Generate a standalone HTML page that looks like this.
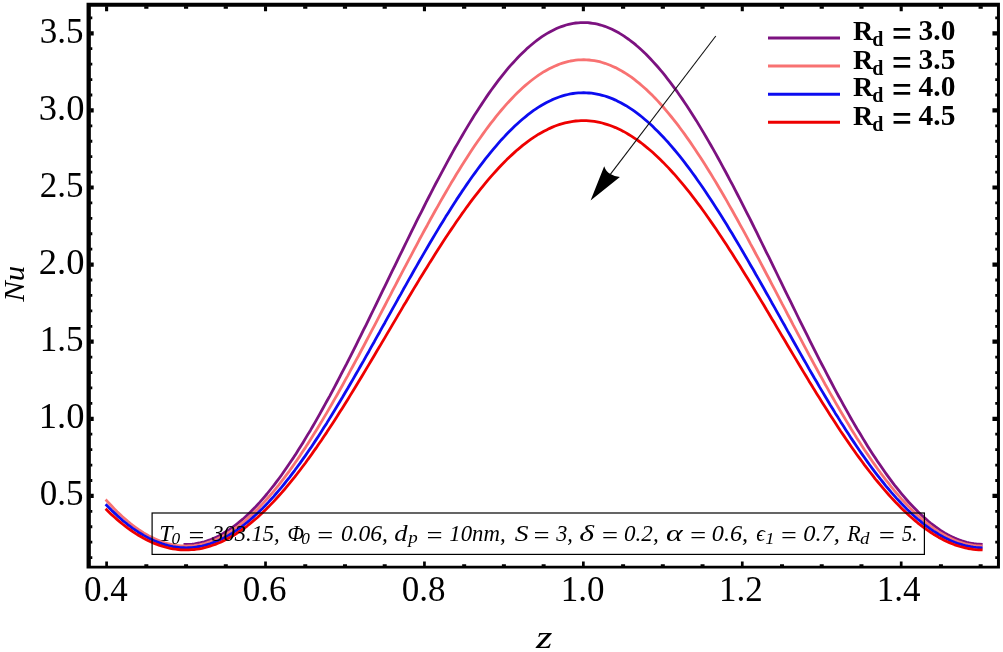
<!DOCTYPE html>
<html><head><meta charset="utf-8"><title>Nu vs z</title>
<style>html,body{margin:0;padding:0;background:#fff}svg{display:block}.s{font-family:"Liberation Serif","DejaVu Serif",serif;fill:#000}.i{font-style:italic}.b{font-weight:bold}</style></head>
<body>
<svg width="1003" height="652" viewBox="0 0 1003 652">
<rect width="1003" height="652" fill="#fff"/>
<polyline fill="none" stroke="#7c1280" stroke-width="2.8" stroke-linejoin="round" stroke-linecap="square" points="184.9,544.4 187.3,544.4 189.7,544.3 192.1,544.1 194.5,543.8 196.9,543.4 199.3,543.0 201.8,542.4 204.2,541.8 206.6,541.0 209.0,540.2 211.4,539.3 213.8,538.3 216.2,537.2 218.7,536.0 221.1,534.7 223.5,533.3 225.9,531.8 228.3,530.3 230.7,528.7 233.1,526.9 235.5,525.1 238.0,523.2 240.4,521.2 242.8,519.2 245.2,517.0 247.6,514.8 250.0,512.4 252.4,510.0 254.9,507.6 257.3,505.0 259.7,502.4 262.1,499.6 264.5,496.8 266.9,494.0 269.3,491.0 271.7,488.0 274.2,484.9 276.6,481.7 279.0,478.5 281.4,475.2 283.8,471.8 286.2,468.3 288.6,464.8 291.0,461.2 293.5,457.6 295.9,453.9 298.3,450.1 300.7,446.3 303.1,442.4 305.5,438.4 307.9,434.4 310.4,430.4 312.8,426.2 315.2,422.1 317.6,417.9 320.0,413.6 322.4,409.3 324.8,404.9 327.2,400.5 329.7,396.1 332.1,391.6 334.5,387.1 336.9,382.5 339.3,377.9 341.7,373.2 344.1,368.6 346.6,363.9 349.0,359.1 351.4,354.4 353.8,349.6 356.2,344.8 358.6,339.9 361.0,335.1 363.4,330.2 365.9,325.3 368.3,320.4 370.7,315.4 373.1,310.5 375.5,305.6 377.9,300.6 380.3,295.6 382.7,290.7 385.2,285.7 387.6,280.7 390.0,275.7 392.4,270.7 394.8,265.8 397.2,260.8 399.6,255.8 402.1,250.9 404.5,245.9 406.9,241.0 409.3,236.1 411.7,231.2 414.1,226.3 416.5,221.4 418.9,216.6 421.4,211.8 423.8,207.0 426.2,202.2 428.6,197.5 431.0,192.8 433.4,188.1 435.8,183.5 438.3,178.9 440.7,174.3 443.1,169.8 445.5,165.3 447.9,160.9 450.3,156.5 452.7,152.1 455.1,147.8 457.6,143.6 460.0,139.4 462.4,135.2 464.8,131.1 467.2,127.1 469.6,123.1 472.0,119.2 474.4,115.3 476.9,111.5 479.3,107.7 481.7,104.1 484.1,100.5 486.5,96.9 488.9,93.4 491.3,90.0 493.8,86.7 496.2,83.4 498.6,80.2 501.0,77.1 503.4,74.1 505.8,71.1 508.2,68.2 510.6,65.4 513.1,62.7 515.5,60.1 517.9,57.5 520.3,55.1 522.7,52.7 525.1,50.4 527.5,48.1 530.0,46.0 532.4,44.0 534.8,42.0 537.2,40.2 539.6,38.4 542.0,36.7 544.4,35.1 546.8,33.6 549.3,32.2 551.7,30.9 554.1,29.7 556.5,28.6 558.9,27.5 561.3,26.6 563.7,25.8 566.1,25.0 568.6,24.4 571.0,23.8 573.4,23.4 575.8,23.0 578.2,22.8 580.6,22.6 583.0,22.6 585.5,22.6 587.9,22.7 590.3,23.0 592.7,23.3 595.1,23.7 597.5,24.2 599.9,24.8 602.3,25.5 604.8,26.3 607.2,27.2 609.6,28.2 612.0,29.3 614.4,30.5 616.8,31.8 619.2,33.1 621.7,34.6 624.1,36.1 626.5,37.8 628.9,39.5 631.3,41.3 633.7,43.2 636.1,45.2 638.5,47.3 641.0,49.5 643.4,51.7 645.8,54.0 648.2,56.5 650.6,59.0 653.0,61.6 655.4,64.2 657.9,67.0 660.3,69.8 662.7,72.7 665.1,75.7 667.5,78.8 669.9,81.9 672.3,85.1 674.7,88.4 677.2,91.7 679.6,95.2 682.0,98.6 684.4,102.2 686.8,105.8 689.2,109.5 691.6,113.3 694.0,117.1 696.5,120.9 698.9,124.9 701.3,128.9 703.7,132.9 706.1,137.0 708.5,141.1 710.9,145.3 713.4,149.6 715.8,153.9 718.2,158.2 720.6,162.6 723.0,167.1 725.4,171.5 727.8,176.0 730.2,180.6 732.7,185.2 735.1,189.8 737.5,194.5 739.9,199.1 742.3,203.9 744.7,208.6 747.1,213.4 749.6,218.2 752.0,223.0 754.4,227.8 756.8,232.7 759.2,237.6 761.6,242.5 764.0,247.4 766.4,252.3 768.9,257.2 771.3,262.1 773.7,267.1 776.1,272.0 778.5,277.0 780.9,281.9 783.3,286.9 785.7,291.8 788.2,296.8 790.6,301.7 793.0,306.6 795.4,311.5 797.8,316.5 800.2,321.3 802.6,326.2 805.1,331.1 807.5,335.9 809.9,340.8 812.3,345.6 814.7,350.4 817.1,355.1 819.5,359.8 821.9,364.5 824.4,369.2 826.8,373.9 829.2,378.5 831.6,383.0 834.0,387.6 836.4,392.1 838.8,396.5 841.3,400.9 843.7,405.3 846.1,409.6 848.5,413.9 850.9,418.2 853.3,422.4 855.7,426.5 858.1,430.6 860.6,434.6 863.0,438.6 865.4,442.5 867.8,446.4 870.2,450.2 872.6,453.9 875.0,457.6 877.4,461.2 879.9,464.8 882.3,468.3 884.7,471.7 887.1,475.1 889.5,478.4 891.9,481.6 894.3,484.8 896.8,487.9 899.2,490.9 901.6,493.8 904.0,496.7 906.4,499.5 908.8,502.2 911.2,504.8 913.6,507.3 916.1,509.8 918.5,512.2 920.9,514.5 923.3,516.8 925.7,518.9 928.1,521.0 930.5,523.0 933.0,524.9 935.4,526.7 937.8,528.4 940.2,530.1 942.6,531.6 945.0,533.1 947.4,534.5 949.8,535.8 952.3,537.0 954.7,538.1 957.1,539.1 959.5,540.0 961.9,540.9 964.3,541.6 966.7,542.3 969.2,542.9 971.6,543.3 974.0,543.7 976.4,544.0 978.8,544.2 981.2,544.4"/>
<polyline fill="none" stroke="#f87272" stroke-width="2.8" stroke-linejoin="round" stroke-linecap="square" points="106.6,500.6 109.3,503.5 111.9,506.3 114.6,509.1 117.2,511.7 119.9,514.2 122.5,516.7 125.2,519.0 127.8,521.3 130.5,523.5 133.1,525.5 135.8,527.5 138.4,529.4 141.1,531.2 143.7,532.9 146.4,534.5 149.0,536.0 151.7,537.3 154.3,538.6 157.0,539.8 159.6,540.9 162.3,541.9 164.9,542.8 167.6,543.5 170.2,544.2 172.9,544.8 175.5,545.3 178.2,545.6 180.8,545.9 183.5,546.0 186.1,546.1 188.8,546.0 191.4,545.9 194.1,545.6 196.7,545.2 199.4,544.8 202.0,544.2 204.7,543.5 207.3,542.7 210.0,541.8 212.6,540.9 215.3,539.8 217.9,538.6 220.6,537.3 223.2,535.9 225.9,534.4 228.5,532.8 231.2,531.1 233.8,529.3 236.5,527.5 239.1,525.5 241.8,523.4 244.4,521.2 247.1,519.0 249.7,516.6 252.4,514.1 255.0,511.6 257.7,509.0 260.3,506.2 263.0,503.4 265.6,500.5 268.3,497.5 270.9,494.5 273.6,491.3 276.2,488.1 278.9,484.8 281.5,481.4 284.2,477.9 286.8,474.4 289.5,470.8 292.1,467.1 294.8,463.3 297.4,459.5 300.1,455.6 302.7,451.6 305.4,447.6 308.0,443.5 310.7,439.3 313.3,435.1 316.0,430.8 318.6,426.5 321.3,422.1 323.9,417.6 326.6,413.1 329.2,408.6 331.9,404.0 334.5,399.4 337.2,394.7 339.8,390.0 342.5,385.2 345.1,380.4 347.8,375.6 350.4,370.7 353.1,365.8 355.7,360.9 358.4,356.0 361.0,351.0 363.7,346.0 366.3,341.0 369.0,335.9 371.6,330.9 374.3,325.8 376.9,320.8 379.6,315.7 382.2,310.6 384.9,305.5 387.5,300.4 390.2,295.3 392.8,290.2 395.5,285.1 398.1,280.0 400.8,274.9 403.4,269.9 406.1,264.8 408.7,259.8 411.4,254.8 414.0,249.8 416.7,244.8 419.3,239.8 422.0,234.9 424.6,230.0 427.3,225.2 429.9,220.3 432.6,215.5 435.2,210.8 437.9,206.1 440.5,201.4 443.2,196.7 445.8,192.2 448.5,187.6 451.1,183.1 453.8,178.7 456.4,174.3 459.1,170.0 461.7,165.7 464.4,161.5 467.0,157.4 469.7,153.3 472.3,149.3 475.0,145.3 477.6,141.5 480.3,137.7 483.0,133.9 485.6,130.3 488.3,126.7 490.9,123.2 493.6,119.8 496.2,116.4 498.9,113.2 501.5,110.0 504.2,106.9 506.8,103.9 509.5,101.0 512.1,98.2 514.8,95.4 517.4,92.8 520.1,90.2 522.7,87.8 525.4,85.4 528.0,83.2 530.7,81.0 533.3,79.0 536.0,77.0 538.6,75.1 541.3,73.4 543.9,71.7 546.6,70.2 549.2,68.8 551.9,67.4 554.5,66.2 557.2,65.1 559.8,64.0 562.5,63.1 565.1,62.3 567.8,61.6 570.4,61.0 573.1,60.6 575.7,60.2 578.4,59.9 581.0,59.8 583.7,59.7 586.3,59.8 589.0,60.0 591.6,60.3 594.3,60.6 596.9,61.1 599.6,61.7 602.2,62.5 604.9,63.3 607.5,64.2 610.2,65.2 612.8,66.4 615.5,67.6 618.1,69.0 620.8,70.4 623.4,72.0 626.1,73.6 628.7,75.4 631.4,77.2 634.0,79.2 636.7,81.3 639.3,83.4 642.0,85.7 644.6,88.0 647.3,90.4 649.9,93.0 652.6,95.6 655.2,98.3 657.9,101.1 660.5,104.0 663.2,107.0 665.8,110.1 668.5,113.3 671.1,116.5 673.8,119.8 676.4,123.2 679.1,126.7 681.7,130.3 684.4,133.9 687.0,137.6 689.7,141.4 692.3,145.3 695.0,149.2 697.6,153.2 700.3,157.2 702.9,161.3 705.6,165.5 708.2,169.8 710.9,174.1 713.5,178.4 716.2,182.8 718.8,187.3 721.5,191.8 724.1,196.3 726.8,200.9 729.4,205.6 732.1,210.3 734.7,215.0 737.4,219.8 740.0,224.6 742.7,229.4 745.3,234.2 748.0,239.1 750.6,244.1 753.3,249.0 755.9,254.0 758.6,258.9 761.2,263.9 763.9,269.0 766.5,274.0 769.2,279.0 771.8,284.1 774.5,289.2 777.1,294.2 779.8,299.3 782.4,304.4 785.1,309.4 787.7,314.5 790.4,319.5 793.0,324.6 795.7,329.6 798.3,334.6 801.0,339.6 803.6,344.6 806.3,349.6 808.9,354.6 811.6,359.5 814.2,364.4 816.9,369.3 819.5,374.1 822.2,378.9 824.8,383.7 827.5,388.4 830.1,393.1 832.8,397.8 835.4,402.4 838.1,407.0 840.7,411.5 843.4,416.0 846.0,420.4 848.7,424.8 851.3,429.2 854.0,433.4 856.6,437.7 859.3,441.8 862.0,445.9 864.6,450.0 867.3,453.9 869.9,457.8 872.6,461.7 875.2,465.4 877.9,469.2 880.5,472.8 883.2,476.3 885.8,479.8 888.5,483.2 891.1,486.6 893.8,489.8 896.4,493.0 899.1,496.1 901.7,499.1 904.4,502.0 907.0,504.8 909.7,507.6 912.3,510.2 915.0,512.8 917.6,515.3 920.3,517.7 922.9,520.0 925.6,522.2 928.2,524.3 930.9,526.4 933.5,528.3 936.2,530.1 938.8,531.9 941.5,533.5 944.1,535.0 946.8,536.5 949.4,537.8 952.1,539.1 954.7,540.2 957.4,541.3 960.0,542.2 962.7,543.0 965.3,543.8 968.0,544.4 970.6,544.9 973.3,545.4 975.9,545.7 978.6,545.9 981.2,546.1"/>
<polyline fill="none" stroke="#0c0cf0" stroke-width="2.8" stroke-linejoin="round" stroke-linecap="square" points="106.6,505.3 109.3,508.0 111.9,510.6 114.6,513.1 117.2,515.6 119.9,518.0 122.5,520.3 125.2,522.5 127.8,524.6 130.5,526.6 133.1,528.6 135.8,530.4 138.4,532.2 141.1,533.8 143.7,535.4 146.4,536.9 149.0,538.3 151.7,539.6 154.3,540.8 157.0,541.9 159.6,542.9 162.3,543.9 164.9,544.7 167.6,545.4 170.2,546.0 172.9,546.6 175.5,547.0 178.2,547.3 180.8,547.6 183.5,547.7 186.1,547.8 188.8,547.7 191.4,547.6 194.1,547.3 196.7,547.0 199.4,546.5 202.0,546.0 204.7,545.4 207.3,544.6 210.0,543.8 212.6,542.9 215.3,541.9 217.9,540.8 220.6,539.6 223.2,538.3 225.9,536.9 228.5,535.4 231.2,533.8 233.8,532.1 236.5,530.3 239.1,528.5 241.8,526.6 244.4,524.5 247.1,522.4 249.7,520.2 252.4,517.9 255.0,515.5 257.7,513.0 260.3,510.5 263.0,507.9 265.6,505.2 268.3,502.4 270.9,499.5 273.6,496.6 276.2,493.5 278.9,490.4 281.5,487.3 284.2,484.0 286.8,480.7 289.5,477.3 292.1,473.8 294.8,470.3 297.4,466.7 300.1,463.1 302.7,459.4 305.4,455.6 308.0,451.8 310.7,447.9 313.3,443.9 316.0,439.9 318.6,435.9 321.3,431.7 323.9,427.6 326.6,423.4 329.2,419.1 331.9,414.8 334.5,410.5 337.2,406.1 339.8,401.7 342.5,397.3 345.1,392.8 347.8,388.3 350.4,383.7 353.1,379.1 355.7,374.5 358.4,369.9 361.0,365.2 363.7,360.6 366.3,355.9 369.0,351.2 371.6,346.4 374.3,341.7 376.9,336.9 379.6,332.2 382.2,327.4 384.9,322.7 387.5,317.9 390.2,313.1 392.8,308.4 395.5,303.6 398.1,298.8 400.8,294.1 403.4,289.3 406.1,284.6 408.7,279.9 411.4,275.2 414.0,270.5 416.7,265.9 419.3,261.3 422.0,256.6 424.6,252.1 427.3,247.5 429.9,243.0 432.6,238.5 435.2,234.1 437.9,229.6 440.5,225.3 443.2,220.9 445.8,216.6 448.5,212.4 451.1,208.2 453.8,204.0 456.4,199.9 459.1,195.9 461.7,191.9 464.4,188.0 467.0,184.1 469.7,180.3 472.3,176.5 475.0,172.8 477.6,169.2 480.3,165.6 483.0,162.1 485.6,158.7 488.3,155.4 490.9,152.1 493.6,148.9 496.2,145.8 498.9,142.7 501.5,139.7 504.2,136.9 506.8,134.0 509.5,131.3 512.1,128.7 514.8,126.1 517.4,123.7 520.1,121.3 522.7,119.0 525.4,116.8 528.0,114.7 530.7,112.7 533.3,110.7 536.0,108.9 538.6,107.2 541.3,105.5 543.9,104.0 546.6,102.5 549.2,101.2 551.9,99.9 554.5,98.8 557.2,97.7 559.8,96.8 562.5,95.9 565.1,95.2 567.8,94.5 570.4,93.9 573.1,93.5 575.7,93.2 578.4,92.9 581.0,92.8 583.7,92.7 586.3,92.8 589.0,93.0 591.6,93.2 594.3,93.6 596.9,94.1 599.6,94.6 602.2,95.3 604.9,96.0 607.5,96.9 610.2,97.9 612.8,98.9 615.5,100.1 618.1,101.4 620.8,102.7 623.4,104.2 626.1,105.7 628.7,107.4 631.4,109.1 634.0,110.9 636.7,112.9 639.3,114.9 642.0,117.0 644.6,119.2 647.3,121.5 649.9,123.8 652.6,126.3 655.2,128.9 657.9,131.5 660.5,134.2 663.2,137.0 665.8,139.9 668.5,142.8 671.1,145.9 673.8,149.0 676.4,152.2 679.1,155.4 681.7,158.7 684.4,162.1 687.0,165.6 689.7,169.2 692.3,172.8 695.0,176.4 697.6,180.2 700.3,184.0 702.9,187.8 705.6,191.7 708.2,195.7 710.9,199.7 713.5,203.8 716.2,207.9 718.8,212.1 721.5,216.3 724.1,220.5 726.8,224.8 729.4,229.2 732.1,233.6 734.7,238.0 737.4,242.5 740.0,246.9 742.7,251.5 745.3,256.0 748.0,260.6 750.6,265.2 753.3,269.8 755.9,274.5 758.6,279.1 761.2,283.8 763.9,288.5 766.5,293.2 769.2,297.9 771.8,302.7 774.5,307.4 777.1,312.1 779.8,316.9 782.4,321.6 785.1,326.3 787.7,331.1 790.4,335.8 793.0,340.5 795.7,345.2 798.3,349.9 801.0,354.6 803.6,359.3 806.3,363.9 808.9,368.6 811.6,373.2 814.2,377.8 816.9,382.3 819.5,386.9 822.2,391.4 824.8,395.8 827.5,400.3 830.1,404.7 832.8,409.0 835.4,413.4 838.1,417.6 840.7,421.9 843.4,426.1 846.0,430.2 848.7,434.3 851.3,438.4 854.0,442.4 856.6,446.3 859.3,450.2 862.0,454.1 864.6,457.8 867.3,461.6 869.9,465.2 872.6,468.8 875.2,472.3 877.9,475.8 880.5,479.2 883.2,482.5 885.8,485.8 888.5,489.0 891.1,492.1 893.8,495.1 896.4,498.1 899.1,501.0 901.7,503.8 904.4,506.5 907.0,509.2 909.7,511.8 912.3,514.3 915.0,516.7 917.6,519.0 920.3,521.2 922.9,523.4 925.6,525.5 928.2,527.4 930.9,529.3 933.5,531.1 936.2,532.8 938.8,534.5 941.5,536.0 944.1,537.4 946.8,538.8 949.4,540.1 952.1,541.2 954.7,542.3 957.4,543.3 960.0,544.1 962.7,544.9 965.3,545.6 968.0,546.2 970.6,546.7 973.3,547.1 975.9,547.4 978.6,547.6 981.2,547.8"/>
<polyline fill="none" stroke="#ee0000" stroke-width="2.8" stroke-linejoin="round" stroke-linecap="square" points="106.6,509.8 109.3,512.4 111.9,514.9 114.6,517.3 117.2,519.6 119.9,521.8 122.5,524.0 125.2,526.1 127.8,528.1 130.5,530.0 133.1,531.8 135.8,533.6 138.4,535.2 141.1,536.8 143.7,538.3 146.4,539.7 149.0,541.0 151.7,542.2 154.3,543.4 157.0,544.4 159.6,545.4 162.3,546.2 164.9,547.0 167.6,547.7 170.2,548.3 172.9,548.8 175.5,549.2 178.2,549.5 180.8,549.8 183.5,549.9 186.1,549.9 188.8,549.9 191.4,549.7 194.1,549.5 196.7,549.2 199.4,548.8 202.0,548.3 204.7,547.7 207.3,547.0 210.0,546.2 212.6,545.3 215.3,544.4 217.9,543.3 220.6,542.2 223.2,541.0 225.9,539.6 228.5,538.2 231.2,536.7 233.8,535.2 236.5,533.5 239.1,531.7 241.8,529.9 244.4,528.0 247.1,526.0 249.7,523.9 252.4,521.7 255.0,519.5 257.7,517.2 260.3,514.8 263.0,512.3 265.6,509.7 268.3,507.1 270.9,504.4 273.6,501.6 276.2,498.8 278.9,495.8 281.5,492.8 284.2,489.8 286.8,486.6 289.5,483.4 292.1,480.2 294.8,476.9 297.4,473.5 300.1,470.0 302.7,466.5 305.4,463.0 308.0,459.3 310.7,455.7 313.3,451.9 316.0,448.2 318.6,444.3 321.3,440.5 323.9,436.5 326.6,432.6 329.2,428.6 331.9,424.5 334.5,420.4 337.2,416.3 339.8,412.1 342.5,407.9 345.1,403.7 347.8,399.4 350.4,395.1 353.1,390.8 355.7,386.5 358.4,382.1 361.0,377.7 363.7,373.3 366.3,368.9 369.0,364.4 371.6,360.0 374.3,355.5 376.9,351.0 379.6,346.6 382.2,342.1 384.9,337.6 387.5,333.1 390.2,328.6 392.8,324.1 395.5,319.6 398.1,315.1 400.8,310.6 403.4,306.1 406.1,301.7 408.7,297.2 411.4,292.8 414.0,288.4 416.7,284.0 419.3,279.6 422.0,275.3 424.6,271.0 427.3,266.7 429.9,262.4 432.6,258.2 435.2,254.0 437.9,249.8 440.5,245.7 443.2,241.6 445.8,237.5 448.5,233.5 451.1,229.6 453.8,225.7 456.4,221.8 459.1,218.0 461.7,214.2 464.4,210.5 467.0,206.8 469.7,203.2 472.3,199.7 475.0,196.2 477.6,192.8 480.3,189.4 483.0,186.1 485.6,182.9 488.3,179.7 490.9,176.6 493.6,173.6 496.2,170.7 498.9,167.8 501.5,165.0 504.2,162.3 506.8,159.6 509.5,157.0 512.1,154.6 514.8,152.1 517.4,149.8 520.1,147.6 522.7,145.4 525.4,143.3 528.0,141.3 530.7,139.4 533.3,137.6 536.0,135.9 538.6,134.2 541.3,132.7 543.9,131.2 546.6,129.9 549.2,128.6 551.9,127.4 554.5,126.3 557.2,125.3 559.8,124.4 562.5,123.6 565.1,122.9 567.8,122.3 570.4,121.8 573.1,121.4 575.7,121.0 578.4,120.8 581.0,120.7 583.7,120.6 586.3,120.7 589.0,120.9 591.6,121.1 594.3,121.4 596.9,121.9 599.6,122.4 602.2,123.0 604.9,123.8 607.5,124.6 610.2,125.5 612.8,126.5 615.5,127.6 618.1,128.8 620.8,130.1 623.4,131.4 626.1,132.9 628.7,134.5 631.4,136.1 634.0,137.8 636.7,139.6 639.3,141.5 642.0,143.5 644.6,145.6 647.3,147.8 649.9,150.0 652.6,152.3 655.2,154.7 657.9,157.2 660.5,159.8 663.2,162.4 665.8,165.1 668.5,167.9 671.1,170.8 673.8,173.7 676.4,176.7 679.1,179.8 681.7,182.9 684.4,186.1 687.0,189.4 689.7,192.7 692.3,196.1 695.0,199.6 697.6,203.1 700.3,206.7 702.9,210.3 705.6,214.0 708.2,217.8 710.9,221.6 713.5,225.4 716.2,229.3 718.8,233.2 721.5,237.2 724.1,241.2 726.8,245.3 729.4,249.4 732.1,253.5 734.7,257.7 737.4,261.9 740.0,266.1 742.7,270.4 745.3,274.7 748.0,279.0 750.6,283.3 753.3,287.7 755.9,292.1 758.6,296.5 761.2,300.9 763.9,305.3 766.5,309.8 769.2,314.2 771.8,318.7 774.5,323.1 777.1,327.6 779.8,332.1 782.4,336.6 785.1,341.0 787.7,345.5 790.4,350.0 793.0,354.4 795.7,358.9 798.3,363.3 801.0,367.7 803.6,372.1 806.3,376.5 808.9,380.9 811.6,385.2 814.2,389.6 816.9,393.9 819.5,398.1 822.2,402.4 824.8,406.6 827.5,410.8 830.1,414.9 832.8,419.0 835.4,423.1 838.1,427.2 840.7,431.2 843.4,435.1 846.0,439.0 848.7,442.9 851.3,446.7 854.0,450.5 856.6,454.2 859.3,457.9 862.0,461.5 864.6,465.1 867.3,468.6 869.9,472.0 872.6,475.4 875.2,478.8 877.9,482.0 880.5,485.2 883.2,488.4 885.8,491.4 888.5,494.5 891.1,497.4 893.8,500.3 896.4,503.1 899.1,505.8 901.7,508.4 904.4,511.0 907.0,513.5 909.7,516.0 912.3,518.3 915.0,520.6 917.6,522.8 920.3,524.9 922.9,526.9 925.6,528.9 928.2,530.7 930.9,532.5 933.5,534.2 936.2,535.8 938.8,537.4 941.5,538.8 944.1,540.2 946.8,541.5 949.4,542.6 952.1,543.7 954.7,544.8 957.4,545.7 960.0,546.5 962.7,547.2 965.3,547.9 968.0,548.5 970.6,548.9 973.3,549.3 975.9,549.6 978.6,549.8 981.2,549.9"/>
<path fill="#000" fill-rule="evenodd" d="M86.55 2.85H999.95V568.5H86.55ZM90.85 6.85V565.8H996.95V6.85Z"/>
<path fill="#000" d="M105.25 561.40H107.95V566.30H105.25ZM105.05 6.35H108.15V11.35H105.05ZM144.33 564.20H148.33V566.30H144.33ZM144.23 6.35H148.43V8.65H144.23ZM184.06 564.20H188.06V566.30H184.06ZM183.96 6.35H188.16V8.65H183.96ZM223.79 564.20H227.79V566.30H223.79ZM223.69 6.35H227.89V8.65H223.69ZM264.17 561.40H266.87V566.30H264.17ZM263.97 6.35H267.07V11.35H263.97ZM303.25 564.20H307.25V566.30H303.25ZM303.15 6.35H307.35V8.65H303.15ZM342.98 564.20H346.98V566.30H342.98ZM342.88 6.35H347.08V8.65H342.88ZM382.71 564.20H386.71V566.30H382.71ZM382.61 6.35H386.81V8.65H382.61ZM423.09 561.40H425.79V566.30H423.09ZM422.89 6.35H425.99V11.35H422.89ZM462.17 564.20H466.17V566.30H462.17ZM462.07 6.35H466.27V8.65H462.07ZM501.90 564.20H505.90V566.30H501.90ZM501.80 6.35H506.00V8.65H501.80ZM541.63 564.20H545.63V566.30H541.63ZM541.53 6.35H545.73V8.65H541.53ZM582.01 561.40H584.71V566.30H582.01ZM581.81 6.35H584.91V11.35H581.81ZM621.09 564.20H625.09V566.30H621.09ZM620.99 6.35H625.19V8.65H620.99ZM660.82 564.20H664.82V566.30H660.82ZM660.72 6.35H664.92V8.65H660.72ZM700.55 564.20H704.55V566.30H700.55ZM700.45 6.35H704.65V8.65H700.45ZM740.93 561.40H743.63V566.30H740.93ZM740.73 6.35H743.83V11.35H740.73ZM780.01 564.20H784.01V566.30H780.01ZM779.91 6.35H784.11V8.65H779.91ZM819.74 564.20H823.74V566.30H819.74ZM819.64 6.35H823.84V8.65H819.64ZM859.47 564.20H863.47V566.30H859.47ZM859.37 6.35H863.57V8.65H859.37ZM899.85 561.40H902.55V566.30H899.85ZM899.65 6.35H902.75V11.35H899.65ZM938.93 564.20H942.93V566.30H938.93ZM938.83 6.35H943.03V8.65H938.83ZM978.66 564.20H982.66V566.30H978.66ZM978.56 6.35H982.76V8.65H978.56ZM90.35 556.18H92.30V558.98H90.35ZM995.25 556.18H997.45V558.98H995.25ZM90.35 540.76H92.30V543.56H90.35ZM995.25 540.76H997.45V543.56H995.25ZM90.35 525.34H92.30V528.14H90.35ZM995.25 525.34H997.45V528.14H995.25ZM90.35 509.92H92.30V512.72H90.35ZM995.25 509.92H997.45V512.72H995.25ZM90.35 493.80H93.70V498.00H90.35ZM992.45 493.80H997.45V498.00H992.45ZM90.35 479.08H92.30V481.88H90.35ZM995.25 479.08H997.45V481.88H995.25ZM90.35 463.66H92.30V466.46H90.35ZM995.25 463.66H997.45V466.46H995.25ZM90.35 448.24H92.30V451.04H90.35ZM995.25 448.24H997.45V451.04H995.25ZM90.35 432.82H92.30V435.62H90.35ZM995.25 432.82H997.45V435.62H995.25ZM90.35 416.70H93.70V420.90H90.35ZM992.45 416.70H997.45V420.90H992.45ZM90.35 401.98H92.30V404.78H90.35ZM995.25 401.98H997.45V404.78H995.25ZM90.35 386.56H92.30V389.36H90.35ZM995.25 386.56H997.45V389.36H995.25ZM90.35 371.14H92.30V373.94H90.35ZM995.25 371.14H997.45V373.94H995.25ZM90.35 355.72H92.30V358.52H90.35ZM995.25 355.72H997.45V358.52H995.25ZM90.35 339.60H93.70V343.80H90.35ZM992.45 339.60H997.45V343.80H992.45ZM90.35 324.88H92.30V327.68H90.35ZM995.25 324.88H997.45V327.68H995.25ZM90.35 309.46H92.30V312.26H90.35ZM995.25 309.46H997.45V312.26H995.25ZM90.35 294.04H92.30V296.84H90.35ZM995.25 294.04H997.45V296.84H995.25ZM90.35 278.62H92.30V281.42H90.35ZM995.25 278.62H997.45V281.42H995.25ZM90.35 262.50H93.70V266.70H90.35ZM992.45 262.50H997.45V266.70H992.45ZM90.35 247.78H92.30V250.58H90.35ZM995.25 247.78H997.45V250.58H995.25ZM90.35 232.36H92.30V235.16H90.35ZM995.25 232.36H997.45V235.16H995.25ZM90.35 216.94H92.30V219.74H90.35ZM995.25 216.94H997.45V219.74H995.25ZM90.35 201.52H92.30V204.32H90.35ZM995.25 201.52H997.45V204.32H995.25ZM90.35 185.40H93.70V189.60H90.35ZM992.45 185.40H997.45V189.60H992.45ZM90.35 170.68H92.30V173.48H90.35ZM995.25 170.68H997.45V173.48H995.25ZM90.35 155.26H92.30V158.06H90.35ZM995.25 155.26H997.45V158.06H995.25ZM90.35 139.84H92.30V142.64H90.35ZM995.25 139.84H997.45V142.64H995.25ZM90.35 124.42H92.30V127.22H90.35ZM995.25 124.42H997.45V127.22H995.25ZM90.35 108.30H93.70V112.50H90.35ZM992.45 108.30H997.45V112.50H992.45ZM90.35 93.58H92.30V96.38H90.35ZM995.25 93.58H997.45V96.38H995.25ZM90.35 78.16H92.30V80.96H90.35ZM995.25 78.16H997.45V80.96H995.25ZM90.35 62.74H92.30V65.54H90.35ZM995.25 62.74H997.45V65.54H995.25ZM90.35 47.32H92.30V50.12H90.35ZM995.25 47.32H997.45V50.12H995.25ZM90.35 31.20H93.70V35.40H90.35ZM992.45 31.20H997.45V35.40H992.45ZM90.35 16.48H92.30V19.28H90.35ZM995.25 16.48H997.45V19.28H995.25Z"/>
<g class="s" font-size="35">
<text x="105.8" y="601.1" text-anchor="middle">0.4</text>
<text x="264.7" y="601.1" text-anchor="middle">0.6</text>
<text x="423.6" y="601.1" text-anchor="middle">0.8</text>
<text x="582.6" y="601.1" text-anchor="middle">1.0</text>
<text x="740.9" y="601.1" text-anchor="middle">1.2</text>
<text x="898.6" y="601.1" text-anchor="middle">1.4</text>
<text x="83.6" y="505.3" text-anchor="end">0.5</text>
<text transform="translate(84.5 428.0) scale(1.045 1)" text-anchor="end">1.0</text>
<text x="83.6" y="351.1" text-anchor="end">1.5</text>
<text transform="translate(84.5 273.8) scale(1.045 1)" text-anchor="end">2.0</text>
<text x="83.6" y="196.9" text-anchor="end">2.5</text>
<text transform="translate(84.5 119.6) scale(1.045 1)" text-anchor="end">3.0</text>
<text x="83.6" y="42.7" text-anchor="end">3.5</text>
</g>
<text class="s i" transform="translate(23.8 283.8) rotate(-90) scale(1.05 1)" text-anchor="middle" font-size="29.4">Nu</text>
<text class="s i" transform="translate(544.3 647.6) scale(1.36 1)" text-anchor="middle" font-size="31">z</text>
<g class="s b" font-size="28">
<line x1="768" x2="840" y1="37.9" y2="37.9" stroke="#7c1280" stroke-width="3"/>
<text x="853" y="39.7">R<tspan font-size="20" dx="-1" dy="6">d</tspan></text>
<text transform="translate(891.8 46.7) scale(1.28 1.41)">=</text>
<text transform="translate(918.6 39.7) scale(1.05 1.02)">3.0</text>
<line x1="768" x2="840" y1="66.0" y2="66.0" stroke="#f87272" stroke-width="3"/>
<text x="853" y="68.6">R<tspan font-size="20" dx="-1" dy="6">d</tspan></text>
<text transform="translate(891.8 75.6) scale(1.28 1.41)">=</text>
<text transform="translate(918.6 68.6) scale(1.05 1.02)">3.5</text>
<line x1="768" x2="840" y1="94.2" y2="94.2" stroke="#0c0cf0" stroke-width="3"/>
<text x="853" y="95.8">R<tspan font-size="20" dx="-1" dy="6">d</tspan></text>
<text transform="translate(891.8 102.8) scale(1.28 1.41)">=</text>
<text transform="translate(918.6 95.8) scale(1.05 1.02)">4.0</text>
<line x1="768" x2="840" y1="122.2" y2="122.2" stroke="#ee0000" stroke-width="3"/>
<text x="853" y="125.0">R<tspan font-size="20" dx="-1" dy="6">d</tspan></text>
<text transform="translate(891.8 132.0) scale(1.28 1.41)">=</text>
<text transform="translate(918.6 125.0) scale(1.05 1.02)">4.5</text>
</g>
<line x1="715.8" y1="36" x2="610.3" y2="174.3" stroke="#111" stroke-width="1.1"/>
<path d="M590.6 200.4L604.2 166.3Q606.2 172.2 610.4 174Q614.6 176.6 619.9 177Z" fill="#000"/>
<rect x="152.1" y="513" width="772.3" height="41.4" fill="none" stroke="#000" stroke-width="1.2"/>
<g class="s i">
<text transform="translate(159.37 540.9) scale(0.989 1)" font-size="24">T</text>
<text transform="translate(171.42 543.8) scale(1.053 1)" font-size="16.5">0</text>
<text transform="translate(186.85 542.9) scale(1.164 1)" font-size="24">=</text>
<text transform="translate(212.15 540.9) scale(0.938 1)" font-size="24">303.15,</text>
<text transform="translate(287.5 540.9) scale(0.9 1)" font-size="24">Φ</text>
<text transform="translate(301.33 543.8) scale(1.04 1)" font-size="16.5">0</text>
<text transform="translate(315.62 542.9) scale(1.173 1)" font-size="24">=</text>
<text transform="translate(340.97 540.9) scale(0.98 1)" font-size="24">0.06,</text>
<text transform="translate(394.32 540.9) scale(1.111 1)" font-size="24">d</text>
<text transform="translate(408.27 542.9) scale(1.15 1)" font-size="16.5">p</text>
<text transform="translate(424.8 542.9) scale(1.182 1)" font-size="24">=</text>
<text transform="translate(449.34 540.9) scale(0.949 1)" font-size="24">10nm,</text>
<text transform="translate(514.69 540.9) scale(1.15 1)" font-size="24">S</text>
<text transform="translate(531.7 542.9) scale(1.182 1)" font-size="24">=</text>
<text transform="translate(556.25 540.9) scale(0.927 1)" font-size="24">3,</text>
<text transform="translate(579.26 540.9) scale(1.321 1)" font-size="24">δ</text>
<text transform="translate(600.05 542.9) scale(1.2 1)" font-size="24">=</text>
<text transform="translate(624.09 540.9) scale(0.961 1)" font-size="24">0.2,</text>
<text transform="translate(665.96 540.9) scale(1.322 1)" font-size="24">α</text>
<text transform="translate(688.37 542.9) scale(1.191 1)" font-size="24">=</text>
<text transform="translate(711.84 540.9) scale(1.009 1)" font-size="24">0.6,</text>
<text transform="translate(756.34 540.9) scale(0.9 1)" font-size="24">ϵ</text>
<text transform="translate(765.29 543.8) scale(1.117 1)" font-size="16.5">1</text>
<text transform="translate(779.35 542.9) scale(1.164 1)" font-size="24">=</text>
<text transform="translate(803.13 540.9) scale(1.021 1)" font-size="24">0.7,</text>
<text transform="translate(847.18 540.9) scale(0.917 1)" font-size="24">R</text>
<text transform="translate(860.07 543.8) scale(1.15 1)" font-size="16.5">d</text>
<text transform="translate(876.9 542.9) scale(1.182 1)" font-size="24">=</text>
<text transform="translate(902.04 540.9) scale(0.852 1)" font-size="24">5.</text>
</g>
</svg>
</body></html>
